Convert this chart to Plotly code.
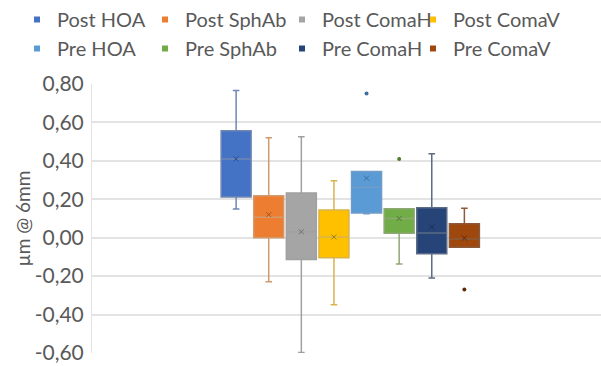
import plotly.graph_objects as go

series = ["Post HOA", "Post SphAb", "Post ComaH", "Post ComaV",
          "Pre HOA", "Pre SphAb", "Pre ComaH", "Pre ComaV"]
q1 = [0.212, 0.00, -0.113, -0.104, 0.128, 0.023, -0.083, -0.050]
median = [0.410, 0.106, 0.031, 0.004, 0.262, 0.100, 0.024, -0.007]
q3 = [0.557, 0.219, 0.233, 0.144, 0.345, 0.151, 0.156, 0.073]
lowerfence = [0.149, -0.229, -0.597, -0.349, 0.125, -0.137, -0.210, -0.050]
upperfence = [0.766, 0.520, 0.526, 0.297, 0.345, 0.151, 0.437, 0.153]
mean = [0.410, 0.120, 0.031, 0.004, 0.310, 0.100, 0.056, -0.002]
outlier_series = ["Pre HOA", "Pre SphAb", "Pre ComaV"]
outlier_values = [0.75, 0.41, -0.27]
tick_values = [-0.6, -0.4, -0.2, 0.0, 0.2, 0.4, 0.6, 0.8]
tick_labels = ["-0,60", "-0,40", "-0,20", "0,00", "0,20", "0,40", "0,60", "0,80"]
y_title = "µm @ 6mm"

colors = ["#4472C4", "#ED7D31", "#A5A5A5", "#FFC000",
          "#5B9BD5", "#70AD47", "#264478", "#9E480E"]
line_colors = ["#6f86b4", "#d39a6e", "#a0a0a0", "#d8b44a",
               "#6f9cc8", "#8ea874", "#5b6b86", "#8a5a3a"]
mark_colors = ["#2f4f8a", "#a85620", "#6f6f6f", "#a88000",
               "#3d6f9e", "#4b7a30", "#1a2f54", "#5e2a08"]

fig = go.Figure()
for i, name in enumerate(series):
    fig.add_trace(go.Box(
        x=[i], q1=[q1[i]], median=[median[i]], q3=[q3[i]],
        lowerfence=[lowerfence[i]], upperfence=[upperfence[i]],
        width=0.92, whiskerwidth=0.22,
        fillcolor=colors[i], line=dict(color=line_colors[i], width=1.5),
        name=name, showlegend=False, hoverinfo="skip",
    ))
    fig.add_trace(go.Scatter(
        x=[i], y=[mean[i]], mode="markers",
        marker=dict(symbol="x-thin", size=5,
                    line=dict(color=mark_colors[i], width=1)),
        showlegend=False, hoverinfo="skip",
    ))

for name, val in zip(outlier_series, outlier_values):
    i = series.index(name)
    fig.add_trace(go.Scatter(
        x=[i], y=[val], mode="markers",
        marker=dict(symbol="circle", size=4, color=mark_colors[i]),
        showlegend=False, hoverinfo="skip",
    ))

# legend: one vertical legend per column (Post row on top, Pre row below)
legend_ids = ["legend", "legend2", "legend3", "legend4"]
for i, name in enumerate(series):
    fig.add_trace(go.Scatter(
        x=[None], y=[None], mode="markers", name=name,
        marker=dict(symbol="square", size=6, color=colors[i]),
        legend=legend_ids[i % 4],
    ))

legend_common = dict(orientation="v", yanchor="top", y=1.0, xanchor="left",
                     xref="container", yref="container",
                     font=dict(size=20, color="#595959"), itemwidth=30,
                     tracegroupgap=0, bgcolor="rgba(0,0,0,0)")
legend_x_px = [17, 145, 282, 413]

fig.update_layout(
    width=601, height=366,
    margin=dict(l=92, r=0, t=84, b=13, autoexpand=False),
    paper_bgcolor="white", plot_bgcolor="white",
    font=dict(family="Lato", color="#595959", size=20),
    showlegend=True,
    **{lid: dict(x=px / 601, **legend_common) for lid, px in zip(legend_ids, legend_x_px)},
    xaxis=dict(range=[-4.42, 11.19], showticklabels=False, showgrid=False,
               zeroline=False, showline=False, fixedrange=True),
    yaxis=dict(range=[-0.6, 0.8], tickmode="array", tickvals=tick_values,
               ticktext=tick_labels, ticklabelstandoff=3,
               showgrid=True, gridcolor="#e3e3e3", gridwidth=1.5,
               zeroline=False, showline=True, linecolor="#e3e3e3",
               ticks="", tickfont=dict(size=21, color="#595959")),
    annotations=[dict(text=y_title, xref="paper", yref="paper",
                      x=(22 - 92) / 509, y=0.5, xanchor="center", yanchor="middle",
                      textangle=-90, showarrow=False,
                      font=dict(size=19, color="#595959"))],
)

fig.write_html("out.html")
